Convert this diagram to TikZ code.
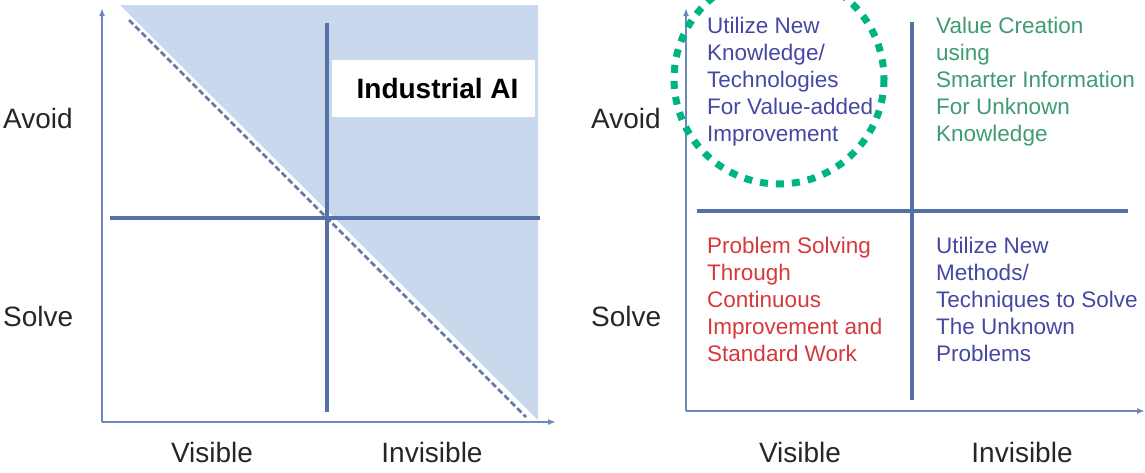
\documentclass[tikz,border=0pt]{standalone}
\usepackage{fontspec}
\setmainfont{Liberation Sans}
\usetikzlibrary{arrows.meta}
\definecolor{axiscol}{HTML}{6F88BA}
\definecolor{linecol}{HTML}{5670A8}
\definecolor{shadecol}{HTML}{CAD8EE}
\definecolor{dashcol}{HTML}{6378A6}
\definecolor{bluetxt}{HTML}{4548A3}
\definecolor{greentxt}{HTML}{3E9B72}
\definecolor{redtxt}{HTML}{D6393C}
\definecolor{ringcol}{HTML}{00B383}
\tikzset{
  axis/.style={draw=axiscol, line width=2pt, -{Latex[length=8pt,width=6pt]}},
  divider/.style={draw=linecol, line width=3.2pt},
  axislabel/.style={inner sep=0pt, font=\fontsize{28}{32}\selectfont, text=black!85},
  quadtext/.style={inner sep=0pt, anchor=north west, align=left, font=\fontsize{22.5}{27}\selectfont},
  ring/.style={draw=ringcol, line width=7pt, dash pattern=on 8pt off 8pt}
}
\begin{document}
\begin{tikzpicture}[x=1pt,y=-1pt]
\useasboundingbox (0,0) rectangle (1145,472);

% ---------- left panel ----------
\fill[shadecol] (120,5) -- (538,5) -- (538,420) -- cycle;
\draw[draw=dashcol, line width=2.6pt, dash pattern=on 6pt off 3pt] (129,20) -- (526,417);

\coordinate (lo) at (102,422);
\coordinate (ltop) at (102,8);
\coordinate (lright) at (556,422);
\draw[axis] (lo) -- (ltop);
\draw[axis] (lo) -- (lright);

\coordinate (lvt) at (327,23);
\coordinate (lvb) at (327,412);
\coordinate (lhl) at (110,218);
\coordinate (lhr) at (540,218);
\draw[divider] (lvt) -- (lvb);
\draw[divider] (lhl) -- (lhr);

\node[fill=white, minimum width=203pt, minimum height=57pt, inner sep=0pt,
      font=\fontsize{28}{32}\selectfont\bfseries] (ai) at (433.5,88.5) {\hspace{8pt}Industrial AI};

\node[axislabel, anchor=west] (lavoid) at (3,118) {Avoid};
\node[axislabel, anchor=west] (lsolve) at (3,316) {Solve};
\node[axislabel] (lvis) at (212,452) {Visible};
\node[axislabel] (linv) at (432,452) {Invisible};

% ---------- right panel ----------
\coordinate (ro) at (686,411);
\coordinate (rtop) at (686,8);
\coordinate (rright) at (1145,411);
\draw[axis] (ro) -- (rtop);
\draw[axis] (ro) -- (rright);

\coordinate (rvt) at (912,22);
\coordinate (rvb) at (912,400);
\coordinate (rhl) at (697,211);
\coordinate (rhr) at (1128,211);
\draw[divider] (rvt) -- (rvb);
\draw[divider] (rhl) -- (rhr);

\node[axislabel, anchor=west] (ravoid) at (591,118) {Avoid};
\node[axislabel, anchor=west] (rsolve) at (591,316) {Solve};
\node[axislabel] (rvis) at (800,452) {Visible};
\node[axislabel] (rinv) at (1022,452) {Invisible};

\node[quadtext, text=bluetxt] (q1) at (707,17)
  {Utilize New\\Knowledge/\\Technologies\\For Value-added\\Improvement};
\node[quadtext, text=greentxt] (q2) at (936,17)
  {Value Creation\\using\\Smarter Information\\For Unknown\\Knowledge};
\node[quadtext, text=redtxt] (q3) at (707,237)
  {Problem Solving\\Through\\Continuous\\Improvement and\\Standard Work};
\node[quadtext, text=bluetxt] (q4) at (936,237)
  {Utilize New\\Methods/\\Techniques to Solve\\The Unknown\\Problems};

% highlight ring around the first quadrant
\draw[ring] (779,79) circle[radius=105];
\end{tikzpicture}
\end{document}
